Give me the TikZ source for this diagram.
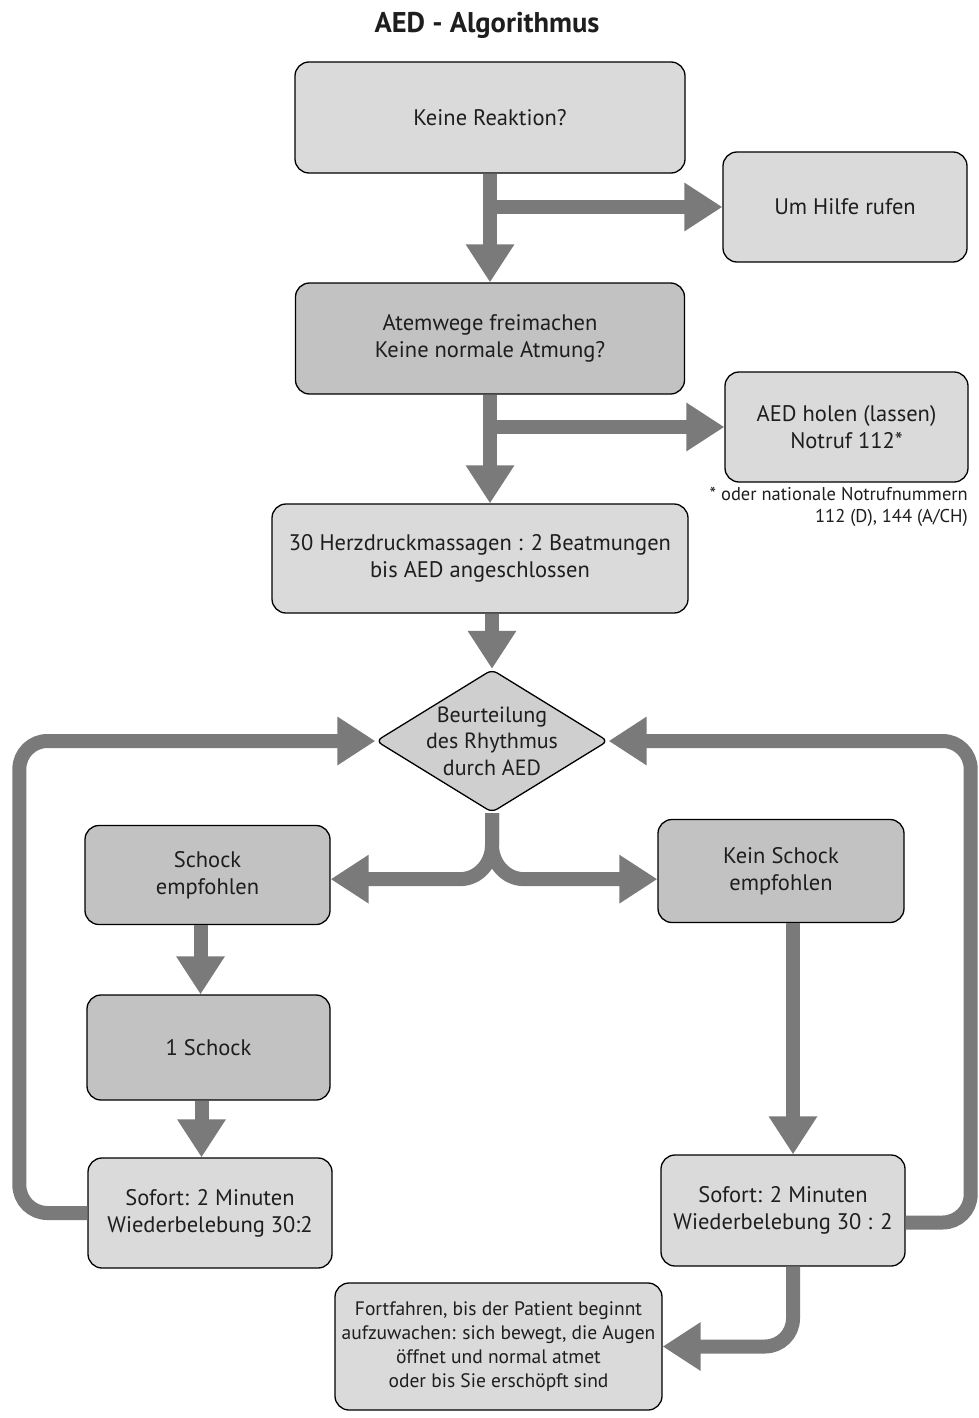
\documentclass[tikz,border=0pt]{standalone}
\usepackage{fontspec}
\setmainfont{PT Sans}
\usetikzlibrary{arrows.meta,shapes.geometric}
\definecolor{boxlight}{HTML}{DADADA}
\definecolor{boxdark}{HTML}{C2C2C2}
\definecolor{diafill}{HTML}{CFCFCF}
\definecolor{arrgray}{HTML}{7A7A7A}
\definecolor{txt}{HTML}{1E1E1E}
\begin{document}
\begin{tikzpicture}[x=1pt,y=-1pt,
  box/.style={draw=black, line width=1.3pt, rounded corners=14pt, align=center,
    text=txt, font=\fontsize{22.5}{27}\selectfont, inner sep=0pt},
  light/.style={box, fill=boxlight},
  dark/.style={box, fill=boxdark},
  arr/.style={draw=arrgray, line width=14pt, -{Triangle[width=46pt,length=38pt]}},
  arrr/.style={arr, rounded corners=28pt}]
\useasboundingbox[fill=white] (0,0) rectangle (978,1418);

\node[font=\bfseries\fontsize{28.5}{32}\selectfont, text=txt] (title) at (487,25) {AED - Algorithmus};

\node[light, minimum width=390pt, minimum height=111pt] (b1) at (490,117.5) {Keine Reaktion?};
\node[light, minimum width=244pt, minimum height=110pt] (hilfe) at (845,207) {Um Hilfe rufen};
\node[dark, minimum width=389pt, minimum height=111pt] (b2) at (490,338.5) {Atemwege freimachen\\Keine normale Atmung?};
\node[light, minimum width=243pt, minimum height=110pt] (aed) at (846.5,427) {AED holen (lassen)\\Notruf 112*};
\node[anchor=north east, align=right, text=txt, font=\fontsize{18.5}{22}\selectfont, inner sep=0pt] (fn) at (968,487) {* oder nationale Notrufnummern\\112 (D), 144 (A/CH)};
\node[light, minimum width=416pt, minimum height=109pt] (b3) at (480,558.5) {30 Herzdruckmassagen : 2 Beatmungen\\bis AED angeschlossen};

\node[diamond, draw=black, line width=1.3pt, fill=diafill, minimum width=232pt, minimum height=143pt,
  inner sep=0pt, rounded corners=6pt] (dia) at (492,741) {};
\node[align=center, text=txt, font=\fontsize{22}{26.5}\selectfont, inner sep=0pt] (dialabel) at (dia.center) {Beurteilung\\des Rhythmus\\durch AED};

\node[dark, minimum width=245pt, minimum height=99pt] (schock) at (207.5,875) {Schock\\empfohlen};
\node[dark, minimum width=243pt, minimum height=105pt] (eins) at (208.5,1047.5) {1 Schock};
\node[light, minimum width=244pt, minimum height=110pt] (sofL) at (210,1213) {Sofort: 2 Minuten\\Wiederbelebung 30:2};

\node[dark, minimum width=246pt, minimum height=103pt] (kein) at (781,871) {Kein Schock\\empfohlen};
\node[light, minimum width=244pt, minimum height=111pt] (sofR) at (783,1210.5) {Sofort: 2 Minuten\\Wiederbelebung 30 : 2};

\node[light, minimum width=327pt, minimum height=127pt, font=\fontsize{19.5}{24}\selectfont] (fort) at (498.5,1346.5)
  {Fortfahren, bis der Patient beginnt\\aufzuwachen: sich bewegt, die Augen\\öffnet und normal atmet\\oder bis Sie erschöpft sind};

% connectors
\draw[arr] (b1.south) -- (b2.north);
\coordinate (s1) at (b1.south |- hilfe.west);
\draw[arr] (s1) -- (hilfe.west);
\draw[arr] (b2.south) -- (b2.south |- b3.north);
\coordinate (s2) at (b2.south |- aed.west);
\draw[arr] (s2) -- (aed.west);
\draw[arr] (b3.south -| dia.north) -- (dia.north);

\coordinate (split) at ([yshift=-32pt]dia.south);
\coordinate (hs) at ([yshift=-34pt]split);
\draw[arr] (dia.south) -- (split) to[out=-90,in=0] ([xshift=-32pt]hs) -- (schock.east |- hs);
\draw[arr] (dia.south) -- (split) to[out=-90,in=180] ([xshift=32pt]hs) -- (kein.west |- hs);

\coordinate (sd) at ([xshift=-7pt]schock.south);
\draw[arr] (sd) -- (sd |- eins.north);
\coordinate (ed) at ([xshift=-7pt]eins.south);
\draw[arr] (ed) -- (ed |- sofL.north);
\coordinate (kd) at ([xshift=12pt]kein.south);
\draw[arr] (kd) -- (kd |- sofR.north);

\draw[arrr] (sofL.west) -- ++(-68,0) |- (dia.west);
\draw[arrr] ([yshift=-12pt]sofR.east) -- ++(65,0) |- (dia.east);
\coordinate (rd) at ([xshift=10pt]sofR.south);
\draw[arrr] (rd) |- (fort.east);
\end{tikzpicture}
\end{document}
